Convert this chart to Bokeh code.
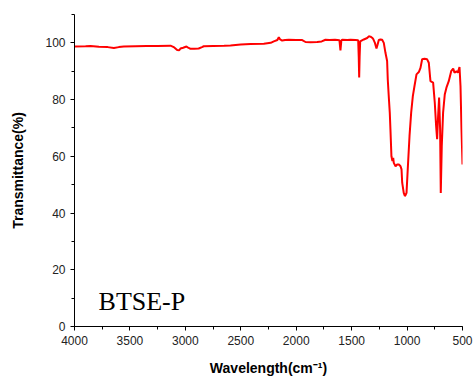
from bokeh.plotting import figure
from bokeh.models import Range1d, SingleIntervalTicker, Label
from bokeh.embed import file_html
from bokeh.resources import INLINE

# FTIR transmittance spectrum of BTSE-P (wavenumber in cm^-1, descending)
wavenumber = [
    4000, 3900, 3856, 3780, 3700, 3645, 3600, 3555, 3450, 3350, 3250, 3134,
    3100, 3074, 3055, 3044, 3020, 2990, 2970, 2954, 2920, 2880, 2850, 2834,
    2750, 2650, 2593, 2500, 2412, 2292, 2230, 2202, 2170, 2157, 2145, 2127,
    2100, 2067, 2000, 1946, 1916, 1870, 1811, 1770, 1736, 1700, 1650, 1630,
    1610, 1601, 1593, 1585, 1540, 1510, 1465, 1441, 1436, 1432, 1428, 1423,
    1390, 1360, 1345, 1330, 1315, 1306, 1290, 1276, 1265, 1255, 1240, 1225,
    1210, 1195, 1180, 1174, 1165, 1156, 1150, 1141, 1132, 1125, 1120, 1104,
    1089, 1074, 1059, 1050, 1044, 1030, 1020, 1014, 1005, 994, 978, 963,
    948, 933, 915, 894, 879, 864, 843, 819, 804, 789, 765, 750,
    738, 729, 720, 711, 702, 696, 687, 675, 660, 645, 624, 602,
    584, 572, 554, 542, 527, 518, 509, 500,
]
transmittance = [
    98.7, 98.8, 98.9, 98.6, 98.5, 98.2, 98.5, 98.7, 98.8, 98.9, 98.9, 99.0,
    98.4, 97.5, 97.4, 98.0, 98.3, 98.7, 98.2, 97.9, 97.9, 98.0, 98.5, 98.8,
    98.9, 99.0, 99.1, 99.4, 99.6, 99.7, 100.0, 100.5, 101.0, 102.0, 101.2, 100.8,
    101.0, 101.1, 101.0, 101.0, 100.3, 100.2, 100.3, 100.5, 101.1, 101.0, 101.1, 101.0,
    100.9, 97.3, 100.8, 101.1, 101.0, 101.1, 101.0, 100.9, 95.0, 87.8, 95.0, 100.5,
    101.2, 101.7, 102.3, 102.2, 101.8, 101.4, 100.0, 98.0, 99.5, 101.0, 101.2, 101.1,
    100.0, 96.5, 93.6, 87.0, 81.0, 75.4, 69.5, 60.0, 58.3, 59.5, 57.7, 56.5,
    57.1, 57.1, 56.5, 55.4, 50.7, 47.1, 46.0, 46.3, 47.1, 55.4, 67.1, 75.4,
    81.2, 84.8, 88.9, 89.7, 91.2, 94.2, 94.4, 94.2, 93.0, 86.5, 86.0, 78.9,
    70.7, 66.0, 74.2, 80.7, 69.5, 47.1, 63.6, 75.4, 81.8, 84.2, 86.5, 90.0,
    90.9, 89.5, 90.0, 89.5, 91.5, 84.8, 69.5, 57.1,
]

sample_name = "BTSE-P"
x_title = "Wavelength(cm\u207b\u00b9)"
y_title = "Transmittance(%)"

SANS = "Liberation Sans"
SERIF = "Liberation Serif"
INK = "#222222"

p = figure(
    width=475, height=378,
    x_range=Range1d(4000, 500), y_range=Range1d(0, 110),
    output_backend="svg", toolbar_location=None,
    min_border_left=74, min_border_right=13,
    min_border_top=14, min_border_bottom=51,
)
p.outline_line_color = None
p.xgrid.visible = False
p.ygrid.visible = False

p.line(wavenumber, transmittance, line_color="#ff0000", line_width=2)

for ax in (p.xaxis[0], p.yaxis[0]):
    ax.axis_line_color = "black"
    ax.major_tick_line_color = "black"
    ax.minor_tick_line_color = "black"
    ax.major_tick_in = 0
    ax.major_tick_out = 4
    ax.minor_tick_in = 0
    ax.minor_tick_out = 3
    ax.major_label_text_font = SANS
    ax.major_label_text_font_size = "12px"
    ax.major_label_text_color = INK
    ax.axis_label_text_font = SANS
    ax.axis_label_text_font_style = "bold"
    ax.axis_label_text_font_size = "14px"
    ax.axis_label_text_color = "black"

p.xaxis.ticker = SingleIntervalTicker(interval=500, num_minor_ticks=2)
p.yaxis.ticker = SingleIntervalTicker(interval=20, num_minor_ticks=2)
p.xaxis.major_label_standoff = 5
p.yaxis.major_label_standoff = 5

p.yaxis.axis_label = y_title
p.yaxis.axis_label_standoff = 16
p.xaxis.axis_label = x_title
p.xaxis.axis_label_standoff = 12

p.add_layout(Label(x=3783, y=8.9, text=sample_name, text_font=SERIF,
                   text_font_size="26px", text_color="black",
                   text_align="left", text_baseline="alphabetic"))

open("out.html", "w").write(file_html(p, INLINE))
